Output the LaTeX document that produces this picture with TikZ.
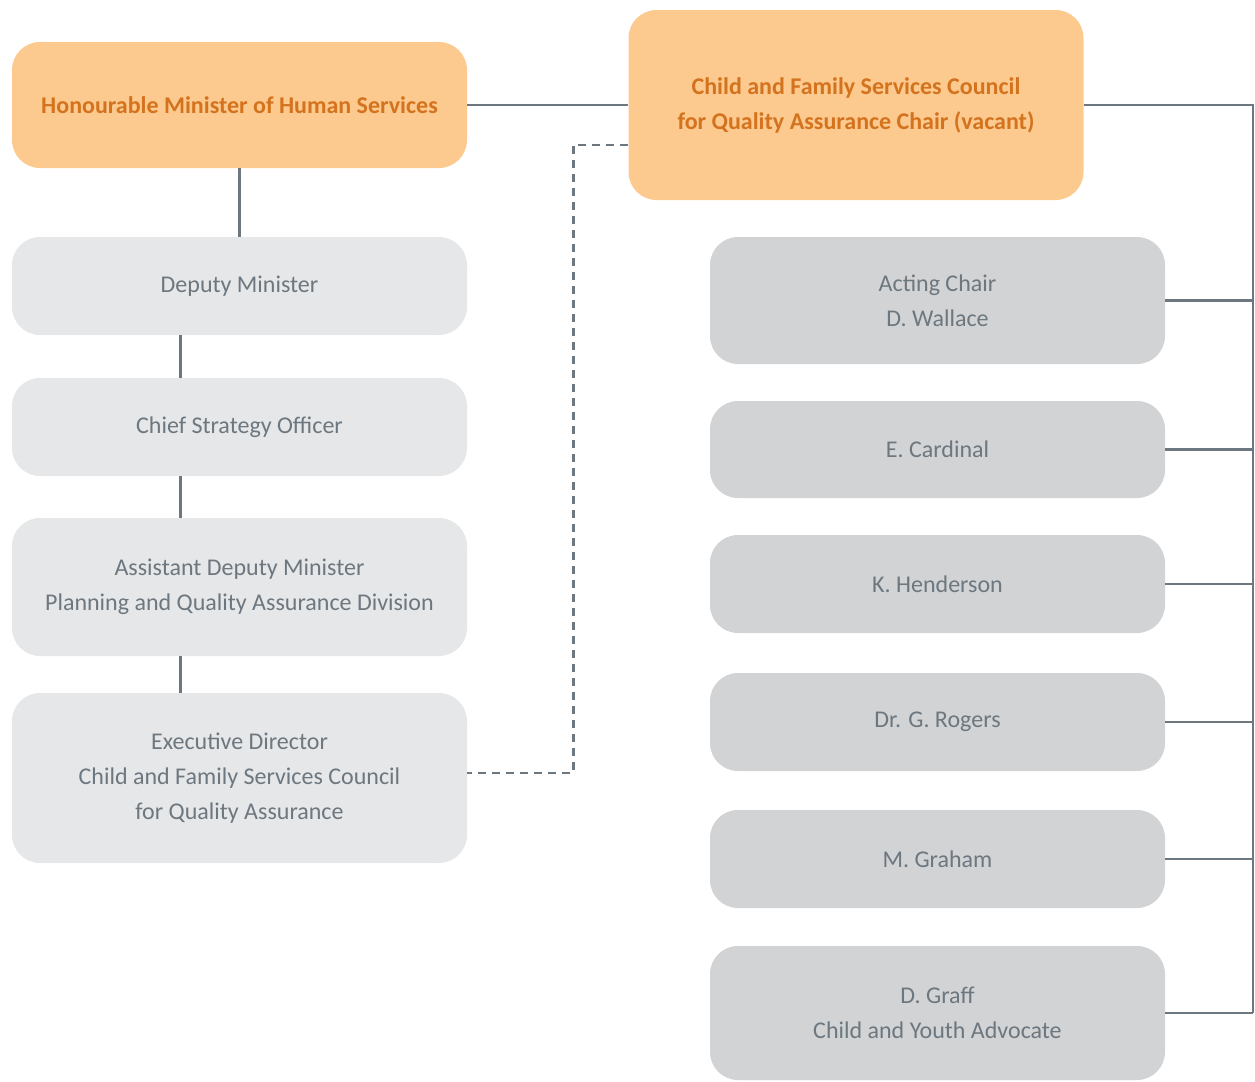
\documentclass[tikz,border=0pt]{standalone}
\usepackage{fontspec}
\setmainfont{Carlito}
\definecolor{headfill}{HTML}{FCC98F}
\definecolor{headtext}{HTML}{D4731E}
\definecolor{lightbox}{HTML}{E6E7E8}
\definecolor{darkbox}{HTML}{D1D3D4}
\definecolor{greytext}{HTML}{6D777F}
\begin{document}
\begin{tikzpicture}[x=0.5pt, y=-0.5pt,
  box/.style={rounded corners=14pt, minimum width=227.5pt, align=center, inner sep=0pt,
    font=\fontsize{12}{17.5}\selectfont, text=greytext},
  head/.style={box, fill=headfill, text=headtext, font=\fontsize{12}{17.5}\selectfont\bfseries},
  staff/.style={box, fill=lightbox},
  member/.style={box, fill=darkbox},
  link/.style={draw=greytext, line width=1.2pt},
  dashlink/.style={link, dash pattern=on 4pt off 3pt}]
\useasboundingbox (0,0) rectangle (1255,1082);
\node[head, minimum height=63pt] (minister) at (239.5,105) {Honourable Minister of Human Services};
\node[head, minimum height=95pt] (chair) at (856,105) {Child and Family Services Council\\for Quality Assurance Chair (vacant)};
\node[staff, minimum height=49pt] (deputy) at (239.5,286) {Deputy Minister};
\node[staff, minimum height=49pt] (cso) at (239.5,427) {Chief Strategy Officer};
\node[staff, minimum height=69pt] (adm) at (239.5,587) {Assistant Deputy Minister\\Planning and Quality Assurance Division};
\node[staff, minimum height=85pt] (exec) at (239.5,778) {Executive Director\\Child and Family Services Council\\for Quality Assurance};
\coordinate (spine) at (1253,1013);
\foreach \y/\h/\name/\txt in {300.5/63.5/wallace/{Acting Chair\\D. Wallace},
                              449.5/48.5/cardinal/{E. Cardinal},
                              584/49/henderson/{K. Henderson},
                              722/49/rogers/{Dr. G. Rogers},
                              859/49/graham/{M. Graham},
                              1013/67/graff/{D. Graff\\Child and Youth Advocate}} {
  \node[member, minimum height=\h pt] (\name) at (937.5,\y) {\txt};
  \draw[link] (\name.east) -- (\name.east -| spine);
}
\draw[link] (minister.east) -- (chair.west);
\draw[link] (minister.south) -- (deputy.north);
\draw[link] ([xshift=-29.5pt]deputy.south) -- ([xshift=-29.5pt]cso.north);
\draw[link] ([xshift=-29.5pt]cso.south) -- ([xshift=-29.5pt]adm.north);
\draw[link] ([xshift=-29.5pt]adm.south) -- ([xshift=-29.5pt]exec.north);
\draw[dashlink] ([yshift=-20pt]chair.west) -| ([xshift=53pt,yshift=2.5pt]exec.east) -- ([yshift=2.5pt]exec.east);
\draw[link] (chair.east) -| (spine);
\end{tikzpicture}
\end{document}
